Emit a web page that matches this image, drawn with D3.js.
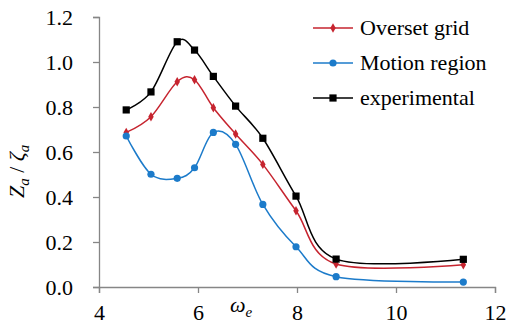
<!DOCTYPE html>
<html>
<head>
<meta charset="utf-8">
<script src="https://cdn.jsdelivr.net/npm/d3@7"></script>
</head>
<body style="margin:0">
<script>
// data
const omega = [4.55, 5.05, 5.58, 5.93, 6.31, 6.76, 7.31, 7.98, 8.79, 11.36];
const overset = [0.687, 0.757, 0.912, 0.921, 0.797, 0.680, 0.545, 0.339, 0.102, 0.099];
const motion = [0.671, 0.501, 0.483, 0.530, 0.687, 0.634, 0.367, 0.179, 0.046, 0.022];
const experimental = [0.787, 0.867, 1.090, 1.053, 0.936, 0.804, 0.661, 0.404, 0.124, 0.123];
const seriesNames = ["Overset grid", "Motion region", "experimental"];
const xTicks = [4, 6, 8, 10, 12];
const yTicks = [0, 0.2, 0.4, 0.6, 0.8, 1.0, 1.2];

const W = 516, H = 327;
const margin = { top: 17, right: 21, bottom: 40, left: 99 };
const FONT = "Liberation Serif";

const svg = d3.select("body").append("svg").attr("width", W).attr("height", H);

const x = d3.scaleLinear().domain([4, 12]).range([margin.left, W - margin.right]);
const y = d3.scaleLinear().domain([0, 1.2]).range([H - margin.bottom, margin.top]);

const axisColor = "#868686";

// y axis
const gy = svg.append("g")
  .attr("transform", "translate(" + margin.left + ",0)")
  .call(d3.axisLeft(y).tickValues(yTicks).tickSize(6).tickPadding(20).tickFormat(d3.format(".1f")));
gy.attr("font-family", FONT).attr("font-size", 22);
gy.selectAll("path, line").attr("stroke", axisColor).attr("stroke-width", 1.3);

// x axis
const gx = svg.append("g")
  .attr("transform", "translate(0," + y(0) + ")")
  .call(d3.axisBottom(x).tickValues(xTicks).tickSize(6).tickPadding(11).tickFormat(d3.format("d")));
gx.attr("font-family", FONT).attr("font-size", 22);
gx.selectAll("path, line").attr("stroke", axisColor).attr("stroke-width", 1.3);

// axis titles
const xt = svg.append("text")
  .attr("x", 230).attr("y", 312)
  .attr("font-family", FONT).attr("font-size", 22).attr("font-style", "italic");
xt.append("tspan").text("ω");
xt.append("tspan").attr("dy", 5).attr("font-size", 15).text("e");

const yt = svg.append("text")
  .attr("transform", "translate(24,198) rotate(-90)")
  .attr("font-family", FONT).attr("font-size", 22).attr("font-style", "italic");
yt.append("tspan").text("Z");
yt.append("tspan").attr("dy", 5).attr("font-size", 15).text("a");
yt.append("tspan").attr("dy", -5).attr("font-style", "normal").text(" / ");
yt.append("tspan").text("ζ");
yt.append("tspan").attr("dy", 5).attr("font-size", 15).text("a");

const series = [
  { name: seriesNames[0], values: overset, color: "#C6242F", marker: "diamond" },
  { name: seriesNames[1], values: motion, color: "#1C7BCA", marker: "circle" },
  { name: seriesNames[2], values: experimental, color: "#000000", marker: "square" }
];

const line = d3.line()
  .x(d => x(d[0]))
  .y(d => y(d[1]))
  .curve(d3.curveCatmullRom.alpha(0));

function drawMarker(g, type, cx, cy, color) {
  if (type === "circle") {
    g.append("circle").attr("cx", cx).attr("cy", cy).attr("r", 3.6).attr("fill", color);
  } else if (type === "square") {
    g.append("rect").attr("x", cx - 3.6).attr("y", cy - 3.6)
      .attr("width", 7.2).attr("height", 7.2).attr("fill", color);
  } else {
    g.append("path")
      .attr("d", d3.symbol().type(d3.symbolDiamond).size(26)())
      .attr("transform", "translate(" + cx + "," + cy + ")")
      .attr("fill", color);
  }
}

series.forEach(s => {
  const pts = omega.map((w, i) => [w, s.values[i]]);
  svg.append("path").datum(pts)
    .attr("d", line)
    .attr("fill", "none")
    .attr("stroke", s.color)
    .attr("stroke-width", 1.5);
  const g = svg.append("g");
  pts.forEach(p => drawMarker(g, s.marker, x(p[0]), y(p[1]), s.color));
});

// legend
const legendY = [28, 63, 98];
series.forEach((s, i) => {
  svg.append("line")
    .attr("x1", 313).attr("x2", 353)
    .attr("y1", legendY[i]).attr("y2", legendY[i])
    .attr("stroke", s.color).attr("stroke-width", 1.5);
  drawMarker(svg, s.marker, 333, legendY[i], s.color);
  svg.append("text")
    .attr("x", 360).attr("y", legendY[i] + 7)
    .attr("font-family", FONT).attr("font-size", 22)
    .text(s.name);
});
</script>
</body>
</html>
